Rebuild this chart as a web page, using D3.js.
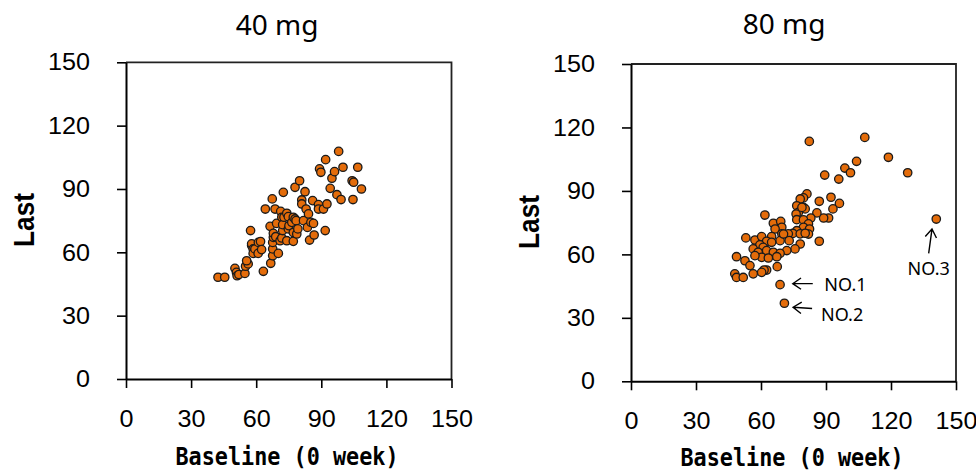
<!DOCTYPE html>
<html>
<head>
<meta charset="utf-8">
<script src="https://cdn.jsdelivr.net/npm/d3@7"></script>
<style>
  html, body { margin: 0; padding: 0; background: #fff; }
  svg { display: block; }
</style>
</head>
<body>
<svg id="chart" width="976" height="473"></svg>
<script>
// ---- data ----
const panelTitles = ["40 mg", "80 mg"];
const xTickValues = [0, 30, 60, 90, 120, 150];
const yTickValues = [0, 30, 60, 90, 120, 150];
const xAxisLabel = "Baseline (0 week)";
const yAxisLabel = "Last";

// 40 mg: [baseline, last]
const dose40 = [
  [42.4,48.2],[45.5,48.2],[50.2,52.4],[50.9,50.5],[51.2,48.9],[52.0,49.5],[54.8,50.0],[55.1,53.4],
  [56.3,54.5],[55.6,56.0],[57.4,70.3],[57.9,63.2],[57.9,64.0],[58.6,61.6],[58.6,59.5],[59.4,61.6],
  [60.9,59.5],[61.0,64.7],[62.0,65.1],[62.5,61.3],[63.3,51.0],[64.2,80.5],[66.7,54.8],[66.4,72.3],
  [67.4,85.3],[67.6,58.4],[67.6,61.6],[67.6,64.7],[67.9,67.1],[67.9,69.0],[68.7,80.5],[69.0,67.4],
  [69.4,73.7],[70.2,59.5],[71.0,65.5],[71.3,79.4],[71.8,66.8],[71.8,76.6],[72.2,70.3],[72.2,73.1],
  [72.5,88.4],[72.8,76.6],[74.1,78.5],[74.1,65.5],[74.8,76.9],[74.8,71.1],[75.1,72.6],[76.4,74.2],
  [77.1,76.6],[77.1,65.2],[77.1,69.4],[77.9,90.8],[77.9,75.8],[78.4,75.0],[78.7,68.7],[79.2,71.1],
  [80.0,93.9],[81.0,84.8],[81.0,82.9],[81.8,75.0],[82.5,88.7],[83.0,80.5],[83.6,71.8],[84.1,78.2],
  [84.6,65.8],[85.2,74.2],[86.0,84.5],[86.4,73.7],[86.7,68.2],[88.7,82.6],[88.7,80.5],[89.2,99.5],
  [89.8,97.9],[91.0,80.5],[91.8,70.3],[92.0,103.9],[92.6,82.9],[94.1,90.3],[94.9,95.1],[96.1,98.2],
  [97.2,87.3],[98.0,107.8],[99.1,85.0],[100.0,100.3],[104.2,93.9],[104.6,85.0],[104.9,93.2],
  [106.8,100.3],[108.5,90.0]
];

// 80 mg: [baseline, last]
const dose80 = [
  [82.3,113.4],[107.9,115.3],[118.8,105.9],[127.7,98.6],[140.9,76.7],[104.1,104.0],[98.7,100.8],
  [101.3,98.6],[89.4,97.5],[95.9,95.6],[92.3,87.0],[86.9,85.1],[96.2,84.1],[93.2,81.5],[91.2,77.2],
  [88.9,77.2],[85.8,79.6],[86.9,66.2],
  [81.2,88.6],[79.6,86.7],[78.1,86.2],[76.5,83.0],[79.6,82.2],[77.3,79.9],[76.2,79.1],[76.5,76.4],
  [83.0,77.2],[79.6,76.3],[81.9,74.4],[79.6,72.8],[82.4,72.0],[76.5,71.2],[74.7,69.9],[78.1,69.7],
  [81.9,69.6],[80.4,70.0],[80.4,81.5],[78.9,82.2],
  [61.8,78.6],[65.7,74.7],[69.1,75.6],[69.6,72.8],[66.5,72.0],[69.6,69.7],[72.6,69.7],[68.8,66.5],
  [73.0,66.5],[78.1,64.9],[75.7,62.6],[71.9,61.8],[53.0,67.8],[57.2,66.8],[60.3,68.4],[64.9,68.4],
  [62.6,66.2],[59.5,64.5],[64.9,65.7],[56.4,62.6],[61.0,63.3],[58.7,61.0],[62.6,61.8],[65.7,61.0],
  [68.8,60.5],[60.3,58.6],[63.4,58.3],[67.3,58.9],[57.2,59.4],[48.7,58.9],[52.6,57.0],[54.9,54.7],
  [67.5,54.2],[62.6,52.6],[61.4,52.6],[60.3,51.5],[56.4,50.8],[47.9,50.8],[48.7,49.1],[51.8,49.1],
  [70.4,69.6],
  [68.8,45.7],[70.8,36.9]
];

// labelled outliers in the 80 mg panel
const noteLabels80 = ["NO.1", "NO.2", "NO.3"];
const notePoints80 = [[68.8,45.7],[70.8,36.9],[140.9,76.7]];

// ---- layout (pixel offsets of arrows / labels relative to their point) ----
const noteLayout = [
  { tip: [12.7, -1], tail: [32.7, -1], text: [44.3, 6.7], anchor: "start" },
  { tip: [8.7, 4],   tail: [27.7, 5.3], text: [36.7, 17.3], anchor: "start" },
  { tip: [-4.3, 10], tail: [-7.6, 34.4], text: [-7.6, 56], anchor: "middle" }
];

const svg = d3.select("#chart");
const FILL = "#E46C0A";

const panels = [
  { title: panelTitles[0], data: dose40, notes: [],
    x0: 126, x1: 451.5, yTop: 62.3, yBot: 379, titleX: 277, titleY: 35, ylabX: 24, ylabY: 220, xlabX: 287, xlabY: 465 },
  { title: panelTitles[1], data: dose80, notes: noteLabels80.map((l, i) => ({ label: l, point: notePoints80[i], lay: noteLayout[i] })),
    x0: 631, x1: 956, yTop: 64, yBot: 381.3, titleX: 784, titleY: 33.5, ylabX: 529, ylabY: 222, xlabX: 792, xlabY: 466 }
];

panels.forEach(p => {
  const x = d3.scaleLinear().domain([0, 150]).range([p.x0, p.x1]);
  const y = d3.scaleLinear().domain([0, 150]).range([p.yBot, p.yTop]);
  const g = svg.append("g");

  // box (top & right)
  g.append("path")
    .attr("d", `M${p.x0},${p.yTop}H${p.x1}V${p.yBot}`)
    .attr("fill", "none").attr("stroke", "#222").attr("stroke-width", 1.8);

  // axes
  const xa = g.append("g").attr("transform", `translate(0,${p.yBot})`)
    .call(d3.axisBottom(x).tickValues(xTickValues).tickSize(9).tickSizeOuter(0).tickPadding(22));
  const ya = g.append("g").attr("transform", `translate(${p.x0},0)`)
    .call(d3.axisLeft(y).tickValues(yTickValues).tickSize(9).tickSizeOuter(0).tickPadding(27));
  [xa, ya].forEach(a => {
    a.select(".domain").attr("stroke", "#000").attr("stroke-width", 2);
    a.selectAll(".tick line").attr("stroke", "#000").attr("stroke-width", 1.6);
    a.selectAll(".tick text").attr("fill", "#000")
      .style("font-family", "'Liberation Sans', Arial, sans-serif").style("font-size", "24px")
      .attr("textLength", function () { return this.textContent.length * 14; })
      .attr("lengthAdjust", "spacingAndGlyphs");
  });

  // title
  g.append("text").attr("x", p.titleX).attr("y", p.titleY)
    .attr("text-anchor", "middle")
    .style("font-family", "'Noto Sans', 'Open Sans', sans-serif").style("font-size", "28px")
    .attr("fill", "#000").text(p.title);

  // y label
  g.append("text")
    .attr("transform", `translate(${p.ylabX + 10},${p.ylabY}) rotate(-90)`)
    .attr("text-anchor", "middle")
    .attr("textLength", 54).attr("lengthAdjust", "spacingAndGlyphs")
    .style("font-family", "'Liberation Sans', Arial, sans-serif").style("font-size", "30px")
    .style("font-weight", "bold").attr("fill", "#000").text(yAxisLabel);

  // x label
  g.append("text").attr("x", p.xlabX).attr("y", p.xlabY)
    .attr("text-anchor", "middle")
    .attr("textLength", 223).attr("lengthAdjust", "spacingAndGlyphs")
    .style("font-family", "'DejaVu Sans Mono', monospace").style("font-size", "25px")
    .style("font-weight", "bold").attr("fill", "#000").text(xAxisLabel);

  // points
  g.append("g").selectAll("circle").data(p.data).join("circle")
    .attr("cx", d => x(d[0])).attr("cy", d => y(d[1])).attr("r", 4.2)
    .attr("fill", FILL).attr("stroke", "#1a1a1a").attr("stroke-width", 1.3);

  // annotations
  p.notes.forEach(n => {
    const px = x(n.point[0]), py = y(n.point[1]);
    const L = n.lay;
    const tx = px + L.tip[0], ty = py + L.tip[1];
    const ex = px + L.tail[0], ey = py + L.tail[1];
    const ang = Math.atan2(ey - ty, ex - tx);
    const hl = 10, hw = 0.6;
    const a1 = [tx + hl * Math.cos(ang + hw), ty + hl * Math.sin(ang + hw)];
    const a2 = [tx + hl * Math.cos(ang - hw), ty + hl * Math.sin(ang - hw)];
    g.append("path")
      .attr("d", `M${ex},${ey}L${tx},${ty}M${a1[0]},${a1[1]}L${tx},${ty}L${a2[0]},${a2[1]}`)
      .attr("fill", "none").attr("stroke", "#000").attr("stroke-width", 1.4);
    g.append("text").attr("x", px + L.text[0]).attr("y", py + L.text[1])
      .attr("text-anchor", L.anchor)
      .style("font-family", "'Noto Sans', 'Open Sans', sans-serif").style("font-size", "18px")
      .attr("fill", "#000").text(n.label);
  });
});
</script>
</body>
</html>
